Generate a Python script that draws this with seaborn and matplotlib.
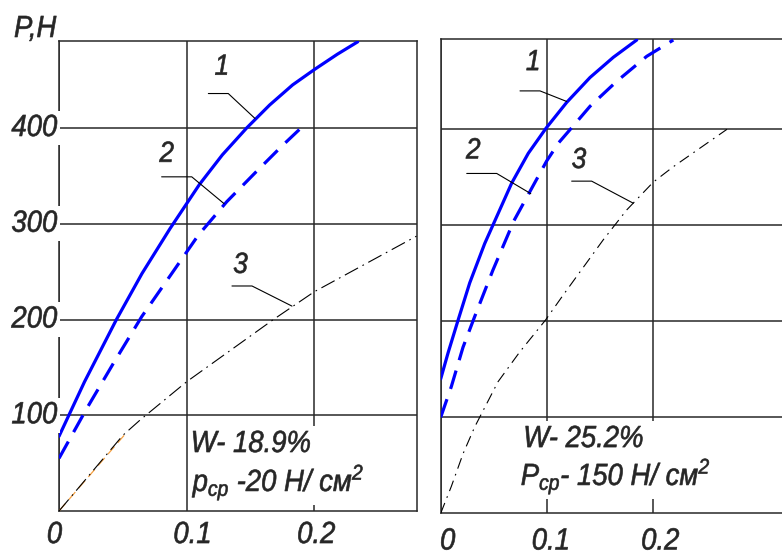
import matplotlib
matplotlib.use("Agg")
import matplotlib.pyplot as plt
from matplotlib import font_manager as fm
from matplotlib.patheffects import AbstractPathEffect
from matplotlib.transforms import Affine2D, ScaledTranslation
import seaborn as sns

# ---------------- data ----------------
x_ticks = [0, 0.1, 0.2]
x_tick_labels = ["0", "0.1", "0.2"]
y_ticks = [100, 200, 300, 400]
y_tick_labels = ["100", "200", "300", "400"]
y_axis_label = "P,Н"
curve_labels = ["1", "2", "3"]

# left panel  (W = 18.9 %, p_cp = 20 Н/см²)
left_c1_x = [0, 0.02, 0.045, 0.065, 0.087, 0.11, 0.128, 0.147, 0.165, 0.183, 0.2, 0.218, 0.234]
left_c1_p = [78, 135, 200, 248, 295, 341, 372, 400, 424, 445, 461, 477, 490]
left_c2_x = [0, 0.0217, 0.0425, 0.0648, 0.0883, 0.1091, 0.1314, 0.1535, 0.1745, 0.1943]
left_c2_p = [55, 107, 154, 203, 248, 288, 323, 353, 381, 406]
left_c3_x = [0, 0.05, 0.0635, 0.1, 0.168, 0.2, 0.28]
left_c3_p = [0, 79, 95, 135, 200, 229, 287]
left_trace_x = [0, 0.051]
left_trace_p = [0, 79]
left_text_1 = "W- 18.9%"
left_text_2 = r"$p_{ср}$ -20 Н/ см$^{2}$"

# right panel (W = 25.2 %, P_cp = 150 Н/см²)
right_c1_x = [0, 0.0069, 0.0163, 0.0273, 0.0414, 0.0668, 0.0824, 0.099, 0.1185, 0.1405, 0.1624, 0.1844]
right_c1_p = [140, 167, 201, 240, 281, 344, 375, 401, 428, 454, 475, 493]
right_c2_x = [0, 0.01, 0.021, 0.032, 0.049, 0.069, 0.0997, 0.111, 0.1235, 0.1405, 0.1656, 0.1938, 0.2188]
right_c2_p = [100, 132, 173, 205, 253, 305, 367, 386, 402, 424, 450, 476, 493]
right_c3_x = [0, 0.01, 0.021, 0.032, 0.0539, 0.0743, 0.0984, 0.115, 0.153, 0.175, 0.2, 0.2188, 0.2693]
right_c3_p = [0, 28, 62, 90, 137, 168, 201, 227, 285, 316, 345, 361, 400]
right_text_1 = "W- 25.2%"
right_text_2 = r"$P_{ср}$- 150 Н/ см$^{2}$"

# label positions and leader lines (data coordinates)
left_label_pos = [(0.1277, 464), (0.0844, 373), (0.1422, 257)]
left_leaders = [([0.117, 0.1326, 0.1535], [436, 436, 410]),
                ([0.0804, 0.104, 0.1293], [349, 349, 321]),
                ([0.1355, 0.1512, 0.1825], [235, 235, 214])]
right_label_pos = [(0.0871, 470), (0.0307, 378), (0.1301, 368)]
right_leaders = [([0.0746, 0.0934, 0.1185], [440, 440, 429]),
                 ([0.0245, 0.0527, 0.0847], [354, 354, 333]),
                 ([0.1232, 0.1420, 0.1812], [346, 346, 323])]


# ---------------- narrow-font helper ----------------
class Narrow(AbstractPathEffect):
    """Horizontally condense glyphs (Arial-Narrow look) about an anchor,
    with a thin outline so strokes look as heavy as in the scan."""

    def __init__(self, sx=0.9, anchor="left", stroke=0.45):
        super().__init__()
        self.sx = sx
        self.anchor = anchor
        self.stroke = stroke

    def draw_path(self, renderer, gc, tpath, affine, rgbFace=None):
        v = tpath.vertices
        if len(v) and self.anchor != "left":
            x0, x1 = v[:, 0].min(), v[:, 0].max()
            piv = (x0 + x1) / 2 if self.anchor == "center" else x1
        else:
            piv = 0.0
        t = Affine2D().translate(-piv, 0).scale(self.sx, 1).translate(piv, 0) + affine
        if self.stroke and rgbFace is not None:
            gc0 = renderer.new_gc()
            gc0.copy_properties(gc)
            gc0.set_linewidth(self.stroke)
            gc0.set_foreground(rgbFace)
            renderer.draw_path(gc0, tpath, t, rgbFace)
            gc0.restore()
        else:
            renderer.draw_path(gc, tpath, t, rgbFace)


SX = 0.9
NL = [Narrow(SX, "left")]
NC = [Narrow(SX, "center")]
NR = [Narrow(SX, "right")]

# ---------------- style ----------------
sns.set_theme(style="white")
avail = {f.name for f in fm.fontManager.ttflist}
base = "Liberation Sans Narrow" if "Liberation Sans Narrow" in avail else "Liberation Sans"
if base == "Liberation Sans Narrow":
    NL = NC = NR = []
plt.rcParams["font.family"] = [base, "DejaVu Sans"]
plt.rcParams["font.style"] = "italic"
plt.rcParams["mathtext.fontset"] = "custom"
plt.rcParams["mathtext.it"] = f"{base}:italic"
plt.rcParams["mathtext.rm"] = f"{base}:italic"
plt.rcParams["mathtext.sf"] = f"{base}:italic"

BLUE = "#0000ff"
GRID = "#282828"
FS = 22

fig = plt.figure(figsize=(7.82, 5.51), dpi=100)
W, H = 782, 551
ax1 = fig.add_axes([59 / W, (H - 511) / H, (417 - 59) / W, (511 - 41) / H])
ax2 = fig.add_axes([440.7 / W, (H - 513.3) / H, (W - 440.7) / W, (513.3 - 39) / H])

ax1.set_xlim(0, (417 - 59) / 1276.5)
ax1.set_ylim(0, (511 - 41) / 0.9575)
ax2.set_xlim(0, (W - 440.7) / 1063)
ax2.set_ylim(0, (513.3 - 39) / 0.96)


def draw_curves(ax, c1x, c1p, c2x, c2p, c3x, c3p, dd):
    sns.lineplot(x=c1x, y=c1p, ax=ax, color=BLUE, linewidth=2.3, sort=False, zorder=4)
    sns.lineplot(x=c2x, y=c2p, ax=ax, color=BLUE, linewidth=2.3, sort=False,
                 linestyle=(0, (6.0, 3.4)), zorder=4)
    sns.lineplot(x=c3x, y=c3p, ax=ax, color="black", linewidth=0.8, sort=False,
                 linestyle=dd, zorder=4)


draw_curves(ax1, left_c1_x, left_c1_p, left_c2_x, left_c2_p, left_c3_x, left_c3_p,
            (0, (13.5, 4.5, 1.5, 4.5)))
sns.lineplot(x=left_trace_x, y=left_trace_p, ax=ax1, color="#f5a040", linewidth=0.9,
             sort=False, linestyle=(0, (8, 4)), zorder=3)
draw_curves(ax2, right_c1_x, right_c1_p, right_c2_x, right_c2_p, right_c3_x, right_c3_p,
            (0, (10, 5, 1.5, 5)))

label_shift = {ax1: [-4.5, 6, 2], ax2: [7, 4, 7]}  # pixel nudges of x tick labels
for ax, pad in ((ax1, 6.5), (ax2, 9.5)):
    ax.set_xticks(x_ticks)
    ax.set_xticklabels(x_tick_labels, fontsize=FS)
    ax.set_yticks(y_ticks)
    ax.set_yticklabels([])
    ax.tick_params(axis="both", length=0)
    ax.tick_params(axis="x", pad=pad)
    ax.grid(True, color=GRID, linewidth=1.1)
    ax.set_axisbelow(True)
    ax.set_xlabel("")
    ax.set_ylabel("")
    for s in ax.spines.values():
        s.set_color(GRID)
        s.set_linewidth(1.1)
    ax.patch.set_alpha(0)
    for lab, dx in zip(ax.get_xticklabels(), label_shift[ax]):
        lab.set_path_effects(NC)
        lab.set_transform(lab.get_transform() + ScaledTranslation(dx / 100, 0, fig.dpi_scale_trans))
ax2.spines["right"].set_visible(False)

# y tick labels (with white backgrounds that cut the left axis line)
for v, lab in zip(y_ticks, y_tick_labels):
    ax1.annotate(lab, xy=(0, v), xycoords=ax1.get_yaxis_transform(),
                 xytext=(-1.2, 0), textcoords="offset points", ha="right", va="center",
                 fontsize=FS, zorder=10, annotation_clip=False, path_effects=NR,
                 bbox=dict(boxstyle="square,pad=0.08", fc="white", ec="none"))

fig.text(14 / W, 1 - 37 / H, y_axis_label, fontsize=FS, ha="left", va="baseline", path_effects=NL)

# curve numbers and leader lines
for ax, pos, leaders in ((ax1, left_label_pos, left_leaders), (ax2, right_label_pos, right_leaders)):
    for lab, (lx, ly), (xs, ys) in zip(curve_labels, pos, leaders):
        ax.text(lx, ly, lab, fontsize=21, ha="center", va="center", zorder=6, path_effects=NC)
        ax.plot(xs, ys, color="black", linewidth=0.8, zorder=5)

# condition texts
box = dict(boxstyle="square,pad=0.1", fc="white", ec="none")
ax1.text(0.1032, 61.6, left_text_1, fontsize=FS, ha="left", va="baseline", zorder=7, bbox=box, path_effects=NL)
ax1.text(0.1047, 20.9, left_text_2, fontsize=FS, ha="left", va="baseline", zorder=8, bbox=box, path_effects=NL)
ax2.text(0.0777, 69, right_text_1, fontsize=FS, ha="left", va="baseline", zorder=7, bbox=box, path_effects=NL)
ax2.text(0.0753, 29.5, right_text_2, fontsize=FS, ha="left", va="baseline", zorder=8, bbox=box, path_effects=NL)

fig.savefig("out.png", dpi=100, facecolor="white")
